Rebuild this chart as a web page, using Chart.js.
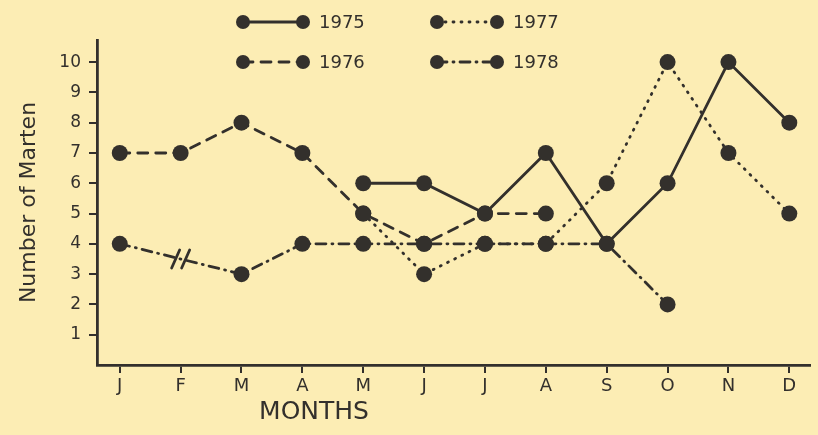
<!DOCTYPE html>
<html>
<head>
<meta charset="utf-8">
<script src="https://cdn.jsdelivr.net/npm/chart.js@4/dist/chart.umd.min.js"></script>
<style>
  html, body { margin: 0; padding: 0; background: #fcedb5; }
  #wrap { width: 818px; height: 435px; }
</style>
</head>
<body>
<div id="wrap"><canvas id="martenChart" width="818" height="435"></canvas></div>
<script>
const months = ['J', 'F', 'M', 'A', 'M', 'J', 'J', 'A', 'S', 'O', 'N', 'D'];
const y1975 = [null, null, null, null, 6, 6, 5, 7, 4, 6, 10, 8];
const y1976 = [7, 7, 8, 7, 5, 4, 5, 5, null, null, null, null];
const y1977 = [null, null, null, null, 5, 3, 4, 4, 6, 10, 7, 5];
const y1978 = [4, null, 3, 4, 4, 4, 4, 4, 4, 2, null, null];
const yTicks = [1, 2, 3, 4, 5, 6, 7, 8, 9, 10];

const ink = '#33302c';
const paper = '#fcedb4';
const font = 'DejaVu Sans, sans-serif';

const toPoints = (arr) => arr
    .map((v, i) => (v === null ? null : { x: i, y: v }))
    .filter(p => p !== null);

const makeSet = (label, arr, dash) => ({
    label,
    data: toPoints(arr),
    borderColor: ink,
    backgroundColor: ink,
    borderWidth: 2.8,
    borderDash: dash,
    borderCapStyle: 'round',
    pointRadius: 8,
    pointHoverRadius: 8,
    pointBackgroundColor: ink,
    pointBorderWidth: 0,
    tension: 0,
    fill: false,
});

const datasets = [
    makeSet('1975', y1975, []),
    makeSet('1976', y1976, [10, 8]),
    makeSet('1977', y1977, [1, 7]),
    makeSet('1978', y1978, [10, 6, 1, 6]),
];

const paperBg = {
    id: 'paperBg',
    beforeDraw(chart) {
        const { ctx, width, height } = chart;
        ctx.save();
        ctx.fillStyle = paper;
        ctx.fillRect(0, 0, width, height);
        ctx.restore();
    },
};

// hand legend: two rows, two columns, plus the x title and the // break
const extras = {
    id: 'extras',
    afterDraw(chart) {
        const { ctx } = chart;
        const xs = chart.scales.x, ys = chart.scales.y;
        const slots = [[243, 22], [243, 62], [437, 22], [437, 62]];
        ctx.save();
        chart.data.datasets.forEach((ds, i) => {
            const [x, y] = slots[i];
            ctx.strokeStyle = ink;
            ctx.lineWidth = 2.8;
            ctx.lineCap = 'round';
            ctx.setLineDash(ds.borderDash);
            ctx.beginPath();
            ctx.moveTo(x, y);
            ctx.lineTo(x + 60, y);
            ctx.stroke();
            ctx.setLineDash([]);
            ctx.fillStyle = ink;
            [x, x + 60].forEach(cx => {
                ctx.beginPath();
                ctx.arc(cx, y, 7, 0, Math.PI * 2);
                ctx.fill();
            });
            ctx.font = '18px ' + font;
            ctx.textBaseline = 'middle';
            ctx.fillText(ds.label, x + 76, y + 1);
        });

        // break mark on 1978 line at Feb
        const bx = xs.getPixelForValue(1);
        const by = ys.getPixelForValue(3.5);
        ctx.strokeStyle = ink;
        ctx.lineWidth = 2.8;
        [-5, 5].forEach(dx => {
            ctx.beginPath();
            ctx.moveTo(bx + dx - 4, by + 9);
            ctx.lineTo(bx + dx + 4, by - 9);
            ctx.stroke();
        });

        ctx.font = '25px ' + font;
        ctx.textAlign = 'center';
        ctx.textBaseline = 'middle';
        ctx.fillStyle = ink;
        ctx.fillText('MONTHS', 314, 412);
        ctx.restore();
    },
};

Chart.defaults.font.family = font;
Chart.defaults.color = ink;

new Chart(document.getElementById('martenChart').getContext('2d'), {
    type: 'line',
    data: { datasets },
    options: {
        responsive: false,
        animation: false,
        layout: { padding: { top: 40, right: 0, bottom: 0, left: 0 } },
        plugins: {
            legend: { display: false },
            tooltip: { enabled: false },
        },
        scales: {
            x: {
                type: 'linear',
                min: -0.374,
                max: 11.34,
                afterBuildTicks: (s) => { s.ticks = months.map((_, i) => ({ value: i })); },
                afterFit: (s) => { s.height = 70; },
                ticks: {
                    callback: (v) => months[v] ?? '',
                    font: { size: 18 },
                    color: ink,
                    padding: 3,
                    maxRotation: 0,
                },
                grid: { drawOnChartArea: false, color: ink, lineWidth: 2, tickLength: 8 },
                border: { color: ink, width: 2.8 },
            },
            y: {
                min: 0,
                max: 10.73,
                afterBuildTicks: (s) => { s.ticks = yTicks.map(v => ({ value: v })); },
                afterFit: (s) => { s.width = 97; },
                ticks: {
                    font: { size: 17 },
                    color: ink,
                    padding: 8,
                },
                grid: { drawOnChartArea: false, color: ink, lineWidth: 2, tickLength: 8 },
                border: { color: ink, width: 2.8 },
                title: {
                    display: true,
                    text: 'Number of Marten',
                    font: { size: 22 },
                    color: ink,
                    padding: { top: 16, bottom: 4 },
                },
            },
        },
    },
    plugins: [paperBg, extras],
});
</script>
</body>
</html>
